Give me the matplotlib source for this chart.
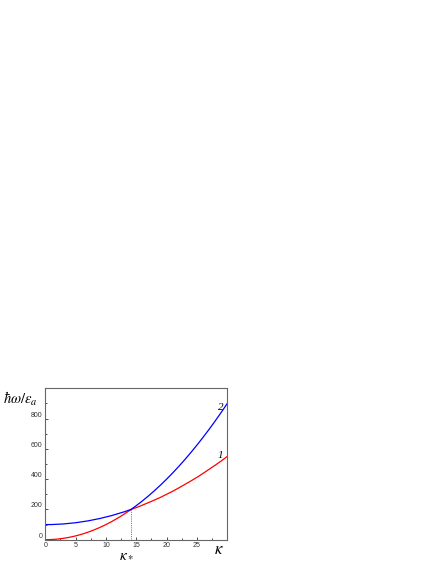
import numpy as np
import matplotlib
matplotlib.use("Agg")
import matplotlib.pyplot as plt
from matplotlib.ticker import MultipleLocator

plt.rcParams['mathtext.fontset'] = 'stix'
plt.rcParams['font.family'] = ['Liberation Sans', 'DejaVu Sans']

# values (kappa, energy)
kappa = [0, 1, 2, 3, 4, 5, 6, 7, 8, 9, 10, 11, 12, 13, 14, 14.14,
         15, 16, 17, 18, 19, 20, 21, 22, 23, 24, 25, 26, 27, 28, 29, 30]
curve1 = [0, 1, 4, 9, 16, 25, 36, 49, 64, 81, 100, 121, 144, 169, 196, 200,
          212, 228, 245, 262, 280, 300, 320, 342, 365, 388, 412, 438, 465, 492, 520, 550]
curve2 = [100, 100, 102, 104, 108, 112, 118, 124, 132, 140, 150, 160, 172, 184, 198, 200,
          225, 256, 289, 324, 361, 400, 441, 484, 529, 576, 625, 676, 729, 784, 841, 900]
kappa_star = 14.14
e_star = 200

yticks = [0, 200, 400, 600, 800]
xticks = [0, 5, 10, 15, 20, 25]

fig = plt.figure(figsize=(4.36, 5.64), dpi=100)
ax = fig.add_axes([0.1039, 0.0431, 0.4174, 0.2684])

ax.plot(kappa, curve1, color='#ff0000', lw=0.9)
ax.plot(kappa, curve2, color='#0000ff', lw=0.9)
ax.plot([kappa_star, kappa_star], [0, e_star], color='#555555', lw=0.6, ls=(0, (1, 1.2)))

ax.set_xlim(0, 30)
ax.set_ylim(0, 1000)
ax.set_xticks(xticks)
ax.set_yticks(yticks)
ax.xaxis.set_minor_locator(MultipleLocator(2.5))
ax.yaxis.set_minor_locator(MultipleLocator(100))
ax.tick_params(which='both', direction='in', labelsize=5, colors='#333333', width=0.6)
ax.tick_params(which='major', length=2.5, pad=2)
ax.tick_params(which='minor', length=1.5)
for lab in ax.get_yticklabels():
    lab.set_va('bottom')
for s in ax.spines.values():
    s.set_color('#666666')
    s.set_linewidth(0.8)

ax.text(28.9, 872, '2', fontsize=8, style='italic', family='Liberation Serif',
        ha='center', va='center')
ax.text(28.8, 553, '1', fontsize=8, style='italic', family='Liberation Serif',
        ha='center', va='center')

fig.text(20 / 436, 1 - 399 / 564, r'$\hbar\omega/\varepsilon_a$', fontsize=10.5,
         ha='center', va='center')
fig.text(219 / 436, 1 - 550 / 564, r'$\kappa$', fontsize=12, ha='center', va='center')
fig.text(126 / 436, 1 - 554 / 564, r'$\kappa_*$', fontsize=11, ha='center', va='center')

fig.savefig('out.png', dpi=100)
